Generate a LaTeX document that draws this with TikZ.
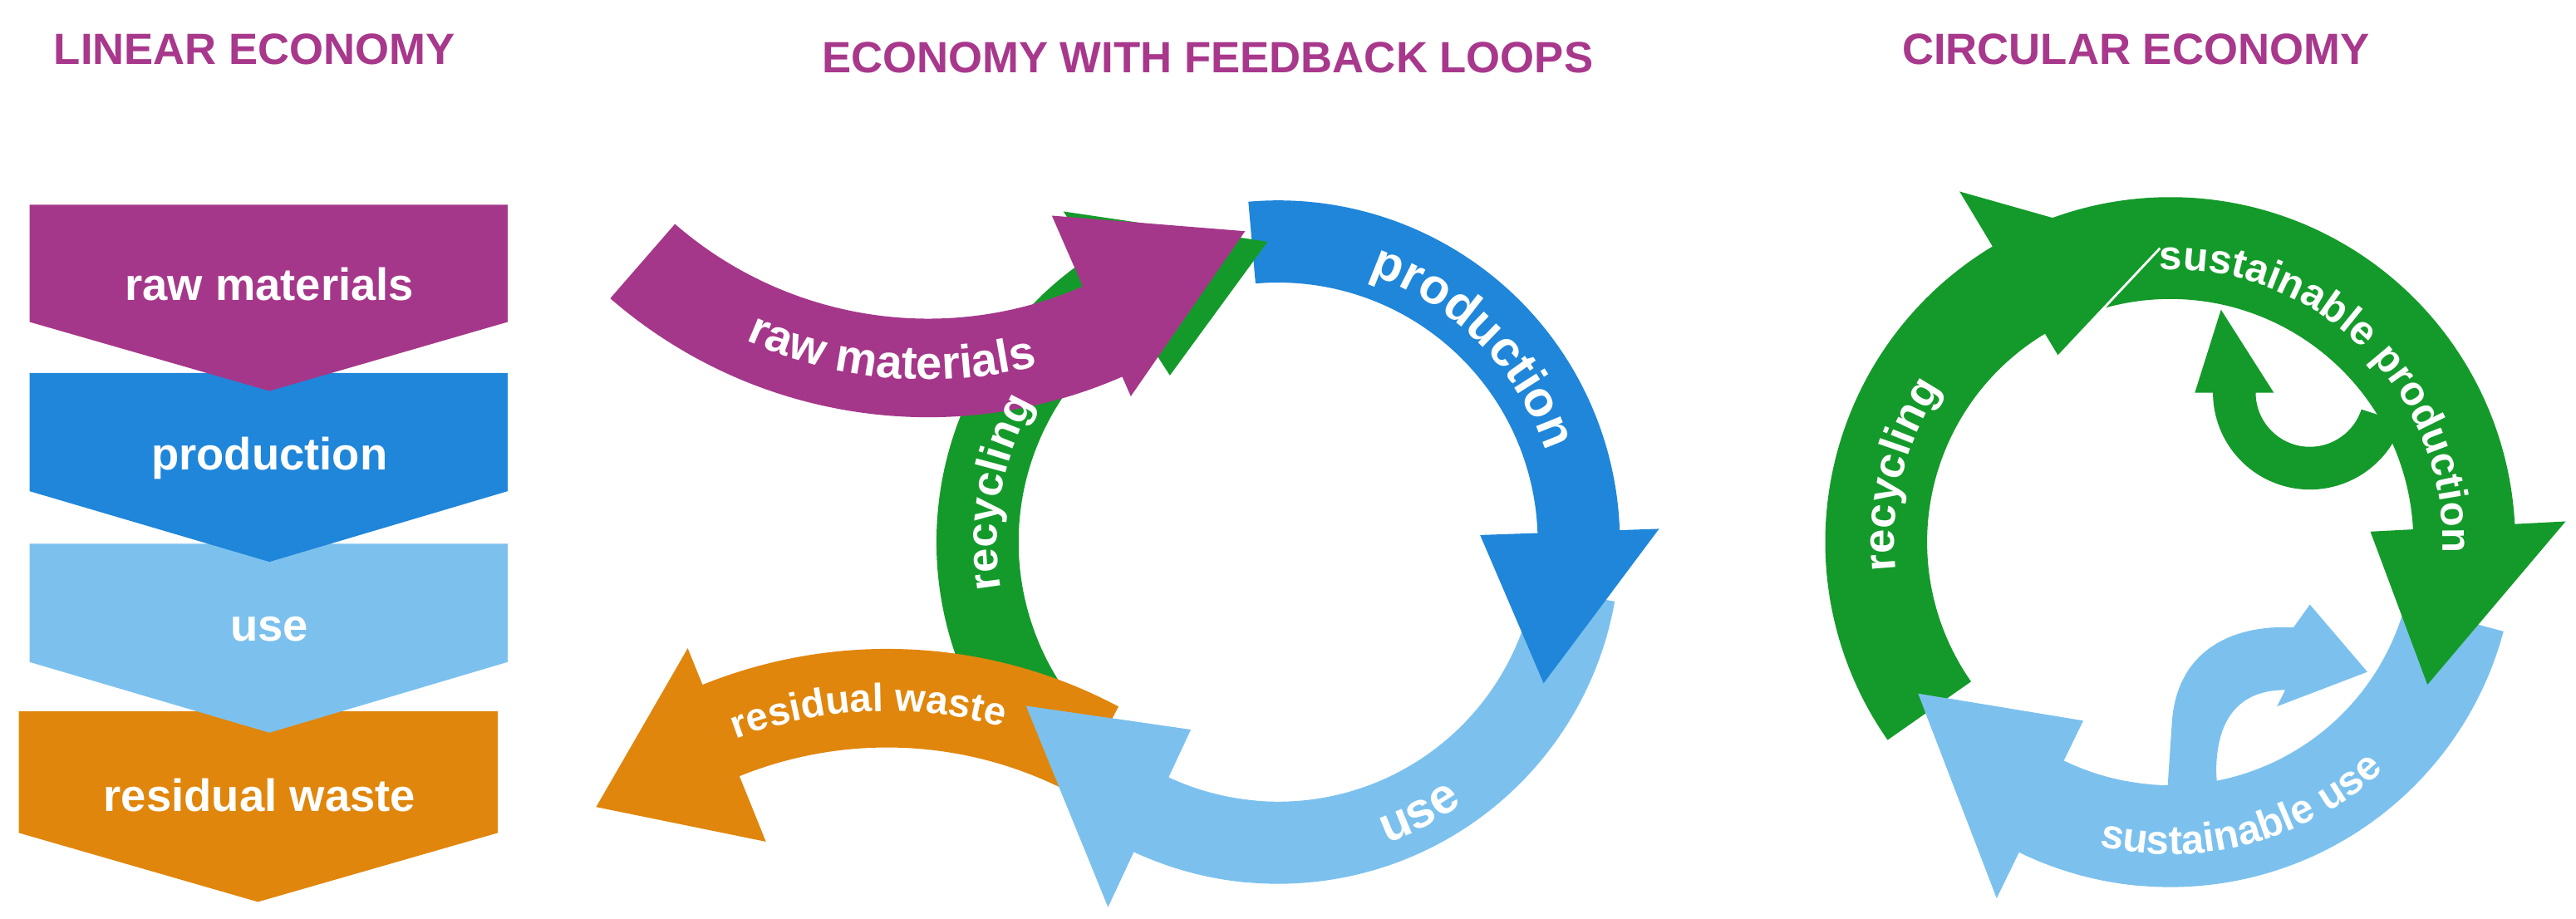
\documentclass[tikz,border=0pt]{standalone}
\usepackage{fontspec}
\setmainfont{Liberation Sans}
\usetikzlibrary{decorations.text}
\definecolor{cpur}{HTML}{A5378A}
\definecolor{ctitle}{HTML}{A8388C}
\definecolor{cblue}{HTML}{1F86DA}
\definecolor{clight}{HTML}{7CC1EE}
\definecolor{corange}{HTML}{E0860C}
\definecolor{cgreen}{HTML}{149A2A}
\newcommand{\ringarrow}[9]{%
\fill[#9, shift={#1}] (#4:#3) arc[start angle=#4, end angle=#5, radius=#3] -- (#5:{#3+#8}) -- (#6:{(#2+#3)/2}) -- (#5:{#2-#7}) -- (#5:#2) arc[start angle=#5, end angle=#4, radius=#2] -- cycle;}
\newcommand{\arctext}[6]{% center, radius, a1, a2, size, text
\path[shift={#1}, decorate, decoration={text along path, text align=center, text color=white, text={|\fontsize{#5}{#5}\selectfont\bfseries|#6}}] (#3:#2) arc[start angle=#3, end angle=#4, radius=#2];}
\tikzset{title/.style={text=ctitle, font=\fontsize{15}{15}\selectfont\bfseries},
 boxtext/.style={text=white, font=\fontsize{15.5}{15.5}\selectfont\bfseries}}
\begin{document}
\begin{tikzpicture}[x=0.01977cm, y=0.01977cm]
\useasboundingbox (0,0) rectangle (1568,559);
% titles
\node[title] (t1) at (155,529) {LINEAR ECONOMY};
\node[title] (t2) at (735,524) {ECONOMY WITH FEEDBACK LOOPS};
\node[title] (t3) at (1300,529) {CIRCULAR ECONOMY};
% linear chevrons (display coords)
\begin{scope}[shift={(0,559)}, yscale=-1]
\fill[corange] (11.5,433) -- (303,433) -- (303,507) -- (157,549) -- (11.5,507) -- cycle;
\fill[clight] (18,331) -- (309,331) -- (309,403) -- (164,446) -- (18,403) -- cycle;
\fill[cblue] (18,227) -- (309,227) -- (309,299) -- (164,342) -- (18,299) -- cycle;
\fill[cpur] (18,124.6) -- (309,124.6) -- (309,196) -- (164,238) -- (18,196) -- cycle;
\end{scope}
\node[boxtext] (l1) at (164,386) {raw materials};
\node[boxtext] (l2) at (164,280) {production};
\node[boxtext] (l3) at (164,176) {use};
\node[boxtext] (l4) at (158,75) {residual waste};
% middle ring
\ringarrow{(778,229)}{158}{208}{-10}{-115}{-147}{32}{37}{clight}
\ringarrow{(778,229)}{158}{208}{95}{2}{-28}{35}{24}{cblue}
\ringarrow{(778,229)}{158}{208}{214}{123}{92}{37}{32}{cgreen}
\ringarrow{(540,-136)}{240}{300}{62}{112}{131}{43}{24}{corange}
\ringarrow{(565,600)}{235}{295}{229}{293.6}{316.7}{47}{13}{cpur}
\ringarrow{(778,229)}{158}{208}{-95}{-115}{-147}{32}{37}{clight}
\arctext{(778,229)}{172}{80}{10}{17pt}{production}
\arctext{(778,229)}{195}{-90}{-35}{17pt}{use}
\arctext{(778,229)}{171}{205}{135}{15pt}{recycling}
\arctext{(565,600)}{272}{240}{290}{16pt}{raw materials}
\arctext{(540,-136)}{262}{115}{70}{13.5pt}{residual waste}
% circular economy
\ringarrow{(1321,229)}{148}{210}{-15}{-116}{-149}{27}{31}{clight}
\ringarrow{(1321,229)}{148}{210}{118}{3}{-29}{26}{31}{cgreen}
\ringarrow{(1321,229)}{148}{210}{215}{121}{92}{16}{39}{cgreen}
\draw[white, line width=0.8pt] ([shift={(1321,229)}]92:179) -- ([shift={(1321,229)}]121:132);
\ringarrow{(1321,229)}{148}{210}{-95}{-116}{-149}{27}{31}{clight}
% small green loop
\fill[cgreen, shift={(1406,320)}] (-18:59) arc[start angle=-18, end angle=-180, radius=59] -- (180:70) -- (137:74) -- (180:22) -- (180:33) arc[start angle=-180, end angle=-18, radius=33] -- cycle;
% small light loop
\begin{scope}[shift={(0,559)}, yscale=-1]
\fill[clight] (1319,485) -- (1322,440) .. controls (1325,395) and (1360,380) .. (1396,382) -- (1406,368) -- (1441,409) -- (1386,430) -- (1391,420) .. controls (1370,420) and (1349,430) .. (1349,470) -- (1350,485) -- cycle;
\end{scope}
\arctext{(1321,229)}{168}{196}{136}{15pt}{recycling}
\arctext{(1321,229)}{166}{102}{-12}{14pt}{sustainable production}
\arctext{(1321,229)}{190}{-115}{-35}{14pt}{sustainable use}
\end{tikzpicture}
\end{document}
